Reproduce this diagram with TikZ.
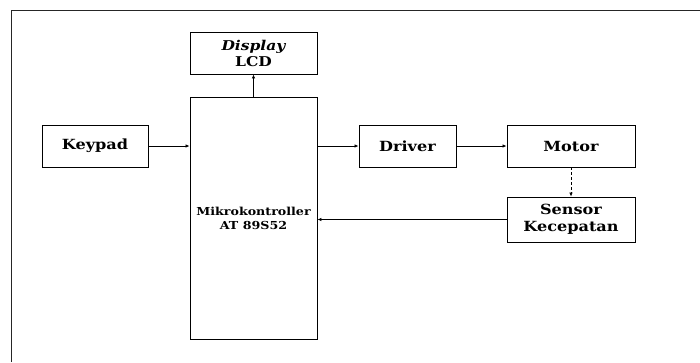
\documentclass[tikz,border=0pt]{standalone}
\usepackage{fontspec}
\setmainfont[FakeStretch=1.15]{DejaVu Serif}
\usetikzlibrary{arrows.meta}
\begin{document}
\begin{tikzpicture}[x=1pt,y=-1pt,
  box/.style={draw, line width=0.9pt, inner sep=0pt, align=center, font=\fontsize{14}{16.5}\selectfont\bfseries},
  conn/.style={line width=0.8pt, -{Latex[length=4pt,width=3.5pt]}},
  frameline/.style={line width=1pt, black!85}]
\useasboundingbox (0,0) rectangle (700,362);
\coordinate (ftl) at (11,10);
\coordinate (ftr) at (700,10);
\coordinate (fbl) at (11,362);
\draw[frameline] (ftr) -- (ftl) -- (fbl);
\node[box, minimum width=106pt, minimum height=42pt] (keypad) at (95,146) {Keypad};
\node[box, minimum width=127pt, minimum height=42pt, font=\fontsize{13.5}{16}\selectfont\bfseries] (lcd) at (253.5,53) {\itshape Display\\LCD};
\node[box, minimum width=127pt, minimum height=242pt, font=\fontsize{11}{14}\selectfont\bfseries] (mcu) at (253.5,218) {Mikrokontroller\\AT 89S52};
\node[box, minimum width=97pt, minimum height=42pt] (driver) at (407.5,146) {Driver};
\node[box, minimum width=128pt, minimum height=42pt] (motor) at (571,146) {Motor};
\node[box, minimum width=128pt, minimum height=45pt, font=\fontsize{14}{17}\selectfont\bfseries] (sensor) at (571,219.5) {Sensor\\Kecepatan};
\draw[conn] (keypad.east) -- (keypad.east -| mcu.west);
\draw[conn] (mcu.north) -- (lcd.south);
\draw[conn] (driver.west -| mcu.east) -- (driver.west);
\draw[conn] (driver.east) -- (motor.west);
\draw[conn, densely dashed, line width=0.6pt] (motor.south) -- (sensor.north);
\draw[conn] (sensor.west) -- (sensor.west -| mcu.east);
\end{tikzpicture}
\end{document}
